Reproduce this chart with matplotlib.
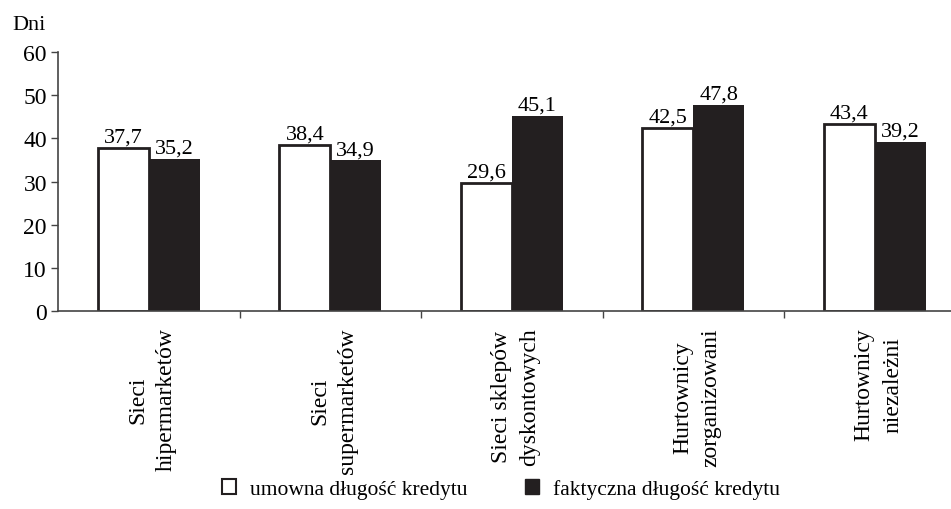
import matplotlib
matplotlib.use("Agg")
import matplotlib.pyplot as plt
from matplotlib.patches import Patch
import numpy as np

categories = ["Sieci\nhipermarketów", "Sieci\nsupermarketów", "Sieci sklepów\ndyskontowych",
              "Hurtownicy\nzorganizowani", "Hurtownicy\nniezależni"]
umowna = [37.7, 38.4, 29.6, 42.5, 43.4]
faktyczna = [35.2, 34.9, 45.1, 47.8, 39.2]
series_names = ["umowna długość kredytu", "faktyczna długość kredytu"]
yticks = [0, 10, 20, 30, 40, 50, 60]

plt.rcParams['font.family'] = ['Liberation Serif', 'DejaVu Serif']

fig = plt.figure(figsize=(9.51, 5.10), dpi=100)
ax = fig.add_axes([58/951, 1-312/510, 1-58/951, (312-53)/510])

x = np.arange(len(categories))
w = 0.28
dark = "#231f20"
ax.bar(x - w/2, umowna, w, color="white", edgecolor=dark, linewidth=2)
ax.bar(x + w/2, faktyczna, w, color=dark, edgecolor=dark, linewidth=0)

for xi, v in zip(x - w/2, umowna):
    ax.text(xi, v + 0.3, f"{v:.1f}".replace(".", ","), ha="center", va="bottom", fontsize=16)
for xi, v in zip(x + w/2, faktyczna):
    ax.text(xi, v + 0.3, f"{v:.1f}".replace(".", ","), ha="center", va="bottom", fontsize=16)

ax.set_xlim(-0.5, -0.5 + (951-58)/181.5)
ax.set_ylim(0, 60)
ax.set_yticks(yticks)
ax.set_yticklabels([str(t) for t in yticks], fontsize=17)
ax.set_xticks(np.arange(0.5, len(categories) - 0.5, 1))
ax.set_xticklabels([])
ax.tick_params(axis="y", direction="out", length=5, width=1, color="#444444", pad=3)
ax.tick_params(axis="x", direction="out", length=5, width=1, color="#444444")
for s in ["top", "right"]:
    ax.spines[s].set_visible(False)
for s in ["left", "bottom"]:
    ax.spines[s].set_color("#444444")
    ax.spines[s].set_linewidth(1.2)

for xi, lab in zip(x, categories):
    ax.text(xi + 0.02, -3.8, lab, rotation=90, ha="center", va="top", fontsize=17,
            multialignment="center", linespacing=1.45)

fig.text(12/951, 1-25/510, "Dni", fontsize=16, ha="left", va="center")

handles = [Patch(facecolor="white", edgecolor=dark, linewidth=1.5),
           Patch(facecolor=dark, edgecolor=dark)]
fig.legend(handles, series_names, loc="center", bbox_to_anchor=(501/951, 1-490/510), ncol=2,
           frameon=False, fontsize=15.5, handlelength=0.65, handleheight=0.65,
           columnspacing=2.7, handletextpad=0.65)

fig.savefig("out.png", dpi=100)
